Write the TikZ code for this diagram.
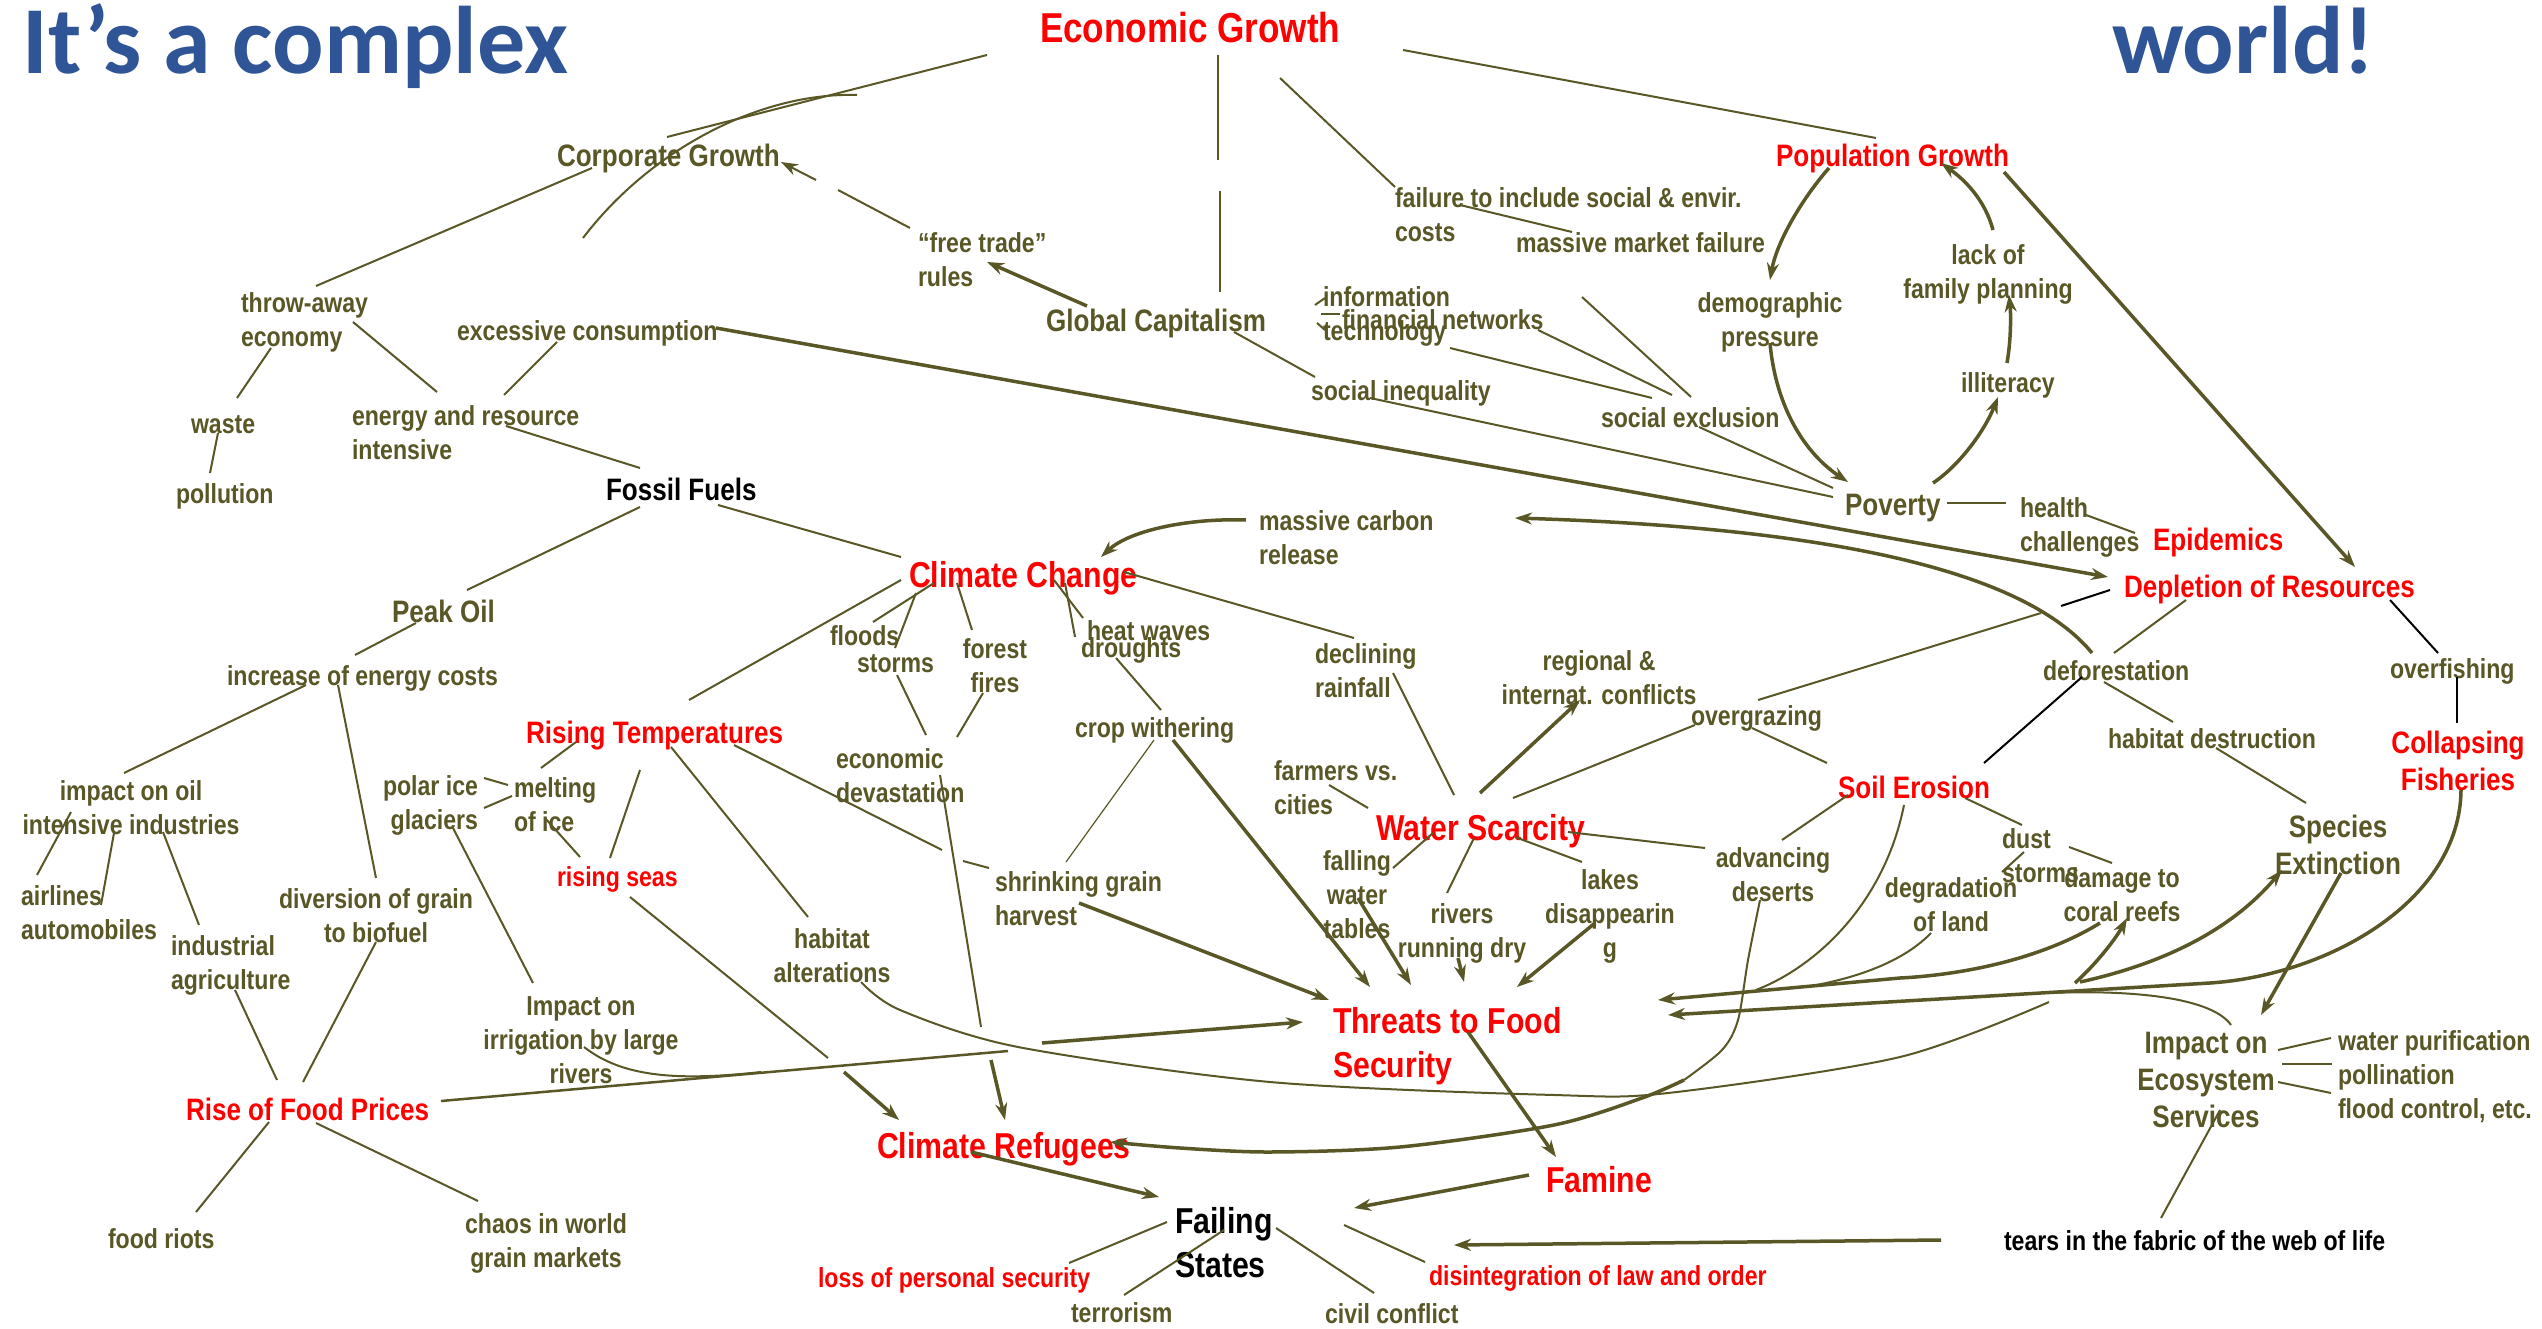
\documentclass[tikz,border=0pt]{standalone}
\usepackage{fontspec}
\usetikzlibrary{arrows.meta}
\newfontfamily\lab[FakeStretch=0.84]{Liberation Sans}
\newfontfamily\ttl{Carlito}
\definecolor{ol}{RGB}{89,87,38}
\definecolor{tb}{RGB}{47,85,151}
\newcommand\TL[1]{\begin{tabular}[t]{@{}l@{}}#1\end{tabular}}
\newcommand\TC[1]{\begin{tabular}[t]{@{}c@{}}#1\end{tabular}}
\newcommand\TR[1]{\begin{tabular}[t]{@{}r@{}}#1\end{tabular}}
\begin{document}
\begin{tikzpicture}[x=1pt,y=-1pt,
 every node/.style={inner sep=0pt,outer sep=0pt},
 sm/.style={font=\lab\bfseries\fontsize{27.5}{34}\selectfont,text=ol,anchor=base west},
 md/.style={font=\lab\bfseries\fontsize{31}{37}\selectfont,text=ol,anchor=base west},
 lg/.style={font=\lab\bfseries\fontsize{36}{44}\selectfont,text=red,anchor=base west},
 rd/.style={text=red}, bk/.style={text=black},
 ln/.style={draw=ol,line width=2pt},
 th/.style={draw=ol,line width=3.5pt},
 ar/.style={-{Stealth[length=17pt,width=12pt]}},
 bl/.style={draw=black,line width=2pt},
 ttlsty/.style={font=\ttl\bfseries\fontsize{96}{100}\selectfont,text=tb,anchor=base west}
]
\fill[white] (0,0) rectangle (2542,1329);
\useasboundingbox (0,0) rectangle (2542,1329);

% ---------- titles
\node[ttlsty] (t1) at (23,74) {It’s a complex};
\node[ttlsty] (t2) at (2112,74) {world!};
\node[font=\lab\bfseries\fontsize{41.8}{48}\selectfont,text=red,anchor=base west] (eg) at (1040,43) {Economic Growth};

% ---------- medium nodes
\node[md] (cg) at (557,167) {Corporate Growth};
\node[md] (gc) at (1046,332) {Global Capitalism};
\node[md,rd] (pg) at (1776,167) {Population Growth};
\node[md] (pov) at (1845,515) {Poverty};
\node[md,bk] (fos) at (606,500) {Fossil Fuels};
\node[md] (po) at (392,622) {Peak Oil};
\node[md,rd] (rt) at (526,743) {Rising Temperatures};
\node[md,rd] (dep) at (2124,597) {Depletion of Resources};
\node[md,rd] (epi) at (2153,550) {Epidemics};
\node[md,rd] (se) at (1838,798) {Soil Erosion};
\node[md,rd,anchor=base] (cf) at (2458,753) {\TC{Collapsing\\Fisheries}};
\node[md,anchor=base] (spx) at (2338,837) {\TC{Species\\Extinction}};
\node[md,anchor=base] (ies) at (2206,1053) {\TC{Impact on\\Ecosystem\\Services}};
\node[md,rd] (rfp) at (186,1120) {Rise of Food Prices};

% ---------- large nodes
\node[lg] (cc) at (909,587) {Climate Change};
\node[lg] (ws) at (1376,840) {Water Scarcity};
\node[lg] (tfs) at (1333,1033) {\TL{Threats to Food\\Security}};
\node[lg] (cr) at (877,1158) {Climate Refugees};
\node[lg] (fam) at (1546,1192) {Famine};
\node[lg,bk] (fs) at (1175,1233) {\TL{Failing\\States}};

% ---------- small nodes
\node[sm] (tw) at (241,313) {\TL{throw-away\\economy}};
\node[sm] (ec) at (457,341) {excessive consumption};
\node[sm] (eri) at (352,425) {\TL{energy and resource\\intensive}};
\node[sm] (wst) at (191,433) {waste};
\node[sm] (pol) at (176,503) {pollution};
\node[sm] (ftr) at (918,253) {\TL{“free trade”\\rules}};
\node[sm] (fail) at (1395,208) {\TL{failure to include social \& envir.\\costs}};
\node[sm] (mmf) at (1516,253) {massive market failure};
\node[sm] (it) at (1323,307) {\TL{information\\technology}};
\node[sm] (fn) at (1342,330) {financial networks};
\node[sm] (si) at (1311,400) {social inequality};
\node[sm] (sx) at (1601,427) {social exclusion};
\node[sm,anchor=base] (dp) at (1770,313) {\TC{demographic\\pressure}};
\node[sm,anchor=base] (lfp) at (1988,265) {\TC{lack of\\family planning}};
\node[sm] (ill) at (1961,392) {illiteracy};
\node[sm] (hc) at (2020,517) {\TL{health\\challenges}};
\node[sm] (mcr) at (1259,530) {\TL{massive carbon\\release}};
\node[sm] (ioec) at (227,685) {increase of energy costs};
\node[sm,anchor=base] (ioi) at (131,800) {\TC{impact on oil\\intensive industries}};
\node[sm] (air) at (21,905) {\TL{airlines\\automobiles}};
\node[sm] (ia) at (171,955) {\TL{industrial\\agriculture}};
\node[sm,anchor=base] (dg) at (376,908) {\TC{diversion of grain\\to biofuel}};
\node[sm,anchor=base east] (pig) at (478,795) {\TR{polar ice\\glaciers}};
\node[sm] (mi) at (514,797) {\TL{melting\\of ice}};
\node[sm,rd] (rs) at (557,886) {rising seas};
\node[sm,anchor=base] (ha) at (832,948) {\TC{habitat\\alterations}};
\node[sm,anchor=base] (iir) at (581,1015) {\TC{Impact on\\irrigation by large\\rivers}};
\node[sm] (fl) at (830,645) {floods};
\node[sm] (st) at (857,672) {storms};
\node[sm,anchor=base] (ff) at (995,658) {\TC{forest\\fires}};
\node[sm] (ed) at (836,768) {\TL{economic\\devastation}};
\node[sm] (hw) at (1087,640) {heat waves};
\node[sm] (dr) at (1081,657) {droughts};
\node[sm] (cw) at (1075,737) {crop withering};
\node[sm] (sg) at (995,891) {\TL{shrinking grain\\harvest}};
\node[sm] (dec) at (1315,663) {\TL{declining\\rainfall}};
\node[sm,anchor=base] (ric) at (1599,670) {\TC{regional \&\\internat. conflicts}};
\node[sm] (og) at (1691,725) {overgrazing};
\node[sm] (fvc) at (1274,780) {\TL{farmers vs.\\cities}};
\node[sm,anchor=base] (fwt) at (1357,870) {\TC{falling\\water\\tables}};
\node[sm,anchor=base] (rrd) at (1462,923) {\TC{rivers\\running dry}};
\node[sm,anchor=base] (ld) at (1610,889) {\TC{lakes\\disappearin\\g}};
\node[sm,anchor=base] (ad) at (1773,867) {\TC{advancing\\deserts}};
\node[sm] (def) at (2043,680) {deforestation};
\node[sm] (hd) at (2108,748) {habitat destruction};
\node[sm] (ovf) at (2390,678) {overfishing};
\node[sm] (ds) at (2002,848) {\TL{dust\\storms}};
\node[sm,anchor=base] (dol) at (1951,897) {\TC{degradation\\of land}};
\node[sm,anchor=base] (dtc) at (2122,887) {\TC{damage to\\coral reefs}};
\node[sm] (wpf) at (2338,1050) {\TL{water purification\\pollination\\flood control, etc.}};
\node[sm,bk] (tears) at (2004,1250) {tears in the fabric of the web of life};
\node[sm,rd] (dlo) at (1429,1285) {disintegration of law and order};
\node[sm] (civ) at (1325,1323) {civil conflict};
\node[sm,rd] (lps) at (818,1287) {loss of personal security};
\node[sm] (ter) at (1071,1322) {terrorism};
\node[sm] (fr) at (108,1248) {food riots};
\node[sm,anchor=base] (chaos) at (546,1233) {\TC{chaos in world\\grain markets}};

% ---------- connectors
\draw[ln] (987,55)--(667,137);
\draw[ln] (583,238) .. controls (650,150) and (760,92) .. (857,95);
\draw[ln] (592,168)--(316,286);
\draw[ln] (271,348)--(237,398);
\draw[ln] (353,322)--(437,392);
\draw[ln] (557,342)--(504,395);
\draw[ln] (506,426)--(640,468);
\draw[ln] (218,433)--(210,473);
\draw[ln] (910,228)--(838,190);
\draw[ln,ar] (816,180)--(781,162);
\draw[th,ar] (1087,306)--(987,262);
\draw[ln] (1218,55)--(1218,160);
\draw[ln] (1220,191)--(1220,292);
\draw[ln] (1234,332)--(1315,377);
\draw[th,ar] (716,328)--(2108,577);
\draw[ln] (1403,50)--(1876,138);
\draw[ln] (1280,78)--(1395,187);
\draw[ln] (1460,205)--(1572,232);
\draw[th,ar] (1829,168) .. controls (1805,195) and (1777,240) .. (1770,280);
\draw[th,ar] (1770,343) .. controls (1775,400) and (1800,450) .. (1848,482);
\draw[ln] (1315,305)--(1325,298);
\draw[ln] (1321,314)--(1340,314);
\draw[ln] (1317,323)--(1325,330);
\draw[ln] (1538,330)--(1672,395);
\draw[ln] (1450,348)--(1652,398);
\draw[ln] (1582,297)--(1691,397);
\draw[ln] (1370,398)--(1833,497);
\draw[ln] (1699,427)--(1833,488);
\draw[th,ar] (1993,230) .. controls (1985,200) and (1965,180) .. (1941,163);
\draw[th,ar] (2007,363) .. controls (2011,340) and (2011,315) .. (2009,295);
\draw[th,ar] (1933,483) .. controls (1960,465) and (1985,430) .. (1998,397);
\draw[th,ar] (2004,172)--(2355,567);
\draw[ln] (640,507)--(467,590);
\draw[ln] (416,623)--(355,655);
\draw[ln] (306,685)--(124,773);
\draw[ln] (338,685)--(376,878);
\draw[ln] (71,812)--(37,875);
\draw[ln] (114,833)--(101,905);
\draw[ln] (163,832)--(199,925);
\draw[ln] (484,778)--(508,785);
\draw[ln] (484,808)--(512,796);
\draw[ln] (576,742)--(541,768);
\draw[ln] (545,818)--(580,857);
\draw[ln] (640,770)--(610,858);
\draw[ln] (453,828)--(533,983);
\draw[ln] (718,505)--(901,557);
\draw[ln] (901,580)--(689,700);
\draw[th,ar] (1246,520) .. controls (1190,518) and (1130,530) .. (1101,557);
\draw[ln] (934,583)--(873,622);
\draw[ln] (916,593)--(895,648);
\draw[ln] (957,583)--(972,630);
\draw[ln] (897,675)--(926,735);
\draw[ln] (983,693)--(957,737);
\draw[ln] (1054,580)--(1083,618);
\draw[ln] (1065,583)--(1075,637);
\draw[ln] (1116,658)--(1161,710);
\draw[draw=ol,line width=1.2pt] (1154,740)--(1066,862);
\draw[th,ar] (1173,740)--(1370,987);
\draw[ln] (1124,572)--(1354,638);
\draw[ln] (734,745)--(942,850);
\draw[ln] (963,861)--(989,868);
\draw[ln] (671,747)--(808,917);
\draw[ln] (940,775)--(981,1027);
\draw[th,ar] (991,1060)--(1005,1120);
\draw[th,ar] (1079,903)--(1329,1000);
\draw[ln] (1393,673)--(1454,795);
\draw[th,ar] (1480,793)--(1580,700);
\draw[ln] (1513,798)--(1695,725);
\draw[ln] (1758,700)--(2041,613);
\draw[bl] (2110,590)--(2061,606);
\draw[ln] (1752,728)--(1827,763);
\draw[ln] (1329,785)--(1368,808);
\draw[ln] (1568,832)--(1705,848);
\draw[ln] (1515,837)--(1582,862);
\draw[ln] (1433,833)--(1393,868);
\draw[ln] (1474,838)--(1447,893);
\draw[ln] (1848,795)--(1782,840);
\draw[ln] (1904,805) .. controls (1885,900) and (1820,965) .. (1756,990);
\draw[ln] (1947,503)--(2006,503);
\draw[ln] (2086,515)--(2135,533);
\draw[th,ar] (2092,653) .. controls (2040,590) and (1900,530) .. (1515,518);
\draw[ln] (2186,600)--(2114,653);
\draw[bl] (2082,677)--(1984,763);
\draw[ln] (2104,682)--(2173,722);
\draw[ln] (2216,748)--(2306,803);
\draw[bl] (2390,600)--(2438,653);
\draw[bl] (2457,677)--(2457,723);
\draw[ln] (1965,798)--(2022,825);
\draw[ln] (2024,852)--(2002,872);
\draw[ln] (2069,847)--(2112,863);
\draw[ln] (1931,933) .. controls (1905,960) and (1860,978) .. (1805,987);
\draw[th,ar] (2100,923) .. controls (2040,960) and (1960,975) .. (1900,978) -- (1658,1000);
\draw[th,ar] (2075,983) .. controls (2095,965) and (2115,940) .. (2127,918);
\draw[th,ar] (2080,982) .. controls (2180,960) and (2240,920) .. (2282,870);
\draw[th,ar] (2461,790) .. controls (2460,900) and (2330,975) .. (2210,983) -- (1668,1015);
\draw[ln] (2231,1025) .. controls (2210,995) and (2120,990) .. (2049,993);
\draw[ln] plot[smooth] coordinates {(861,982) (900,1010) (1018,1047) (1270,1082) (1554,1095) (1668,1093) (1900,1057) (2049,1002)};
\draw[ln] plot[smooth] coordinates {(1760,900) (1748,960) (1738,1020) (1722,1050) (1684,1080)};
\draw[th,ar] plot[smooth] coordinates {(1684,1080) (1642,1098) (1554,1125) (1400,1147) (1270,1152) (1180,1148) (1110,1142)};
\draw[th,ar] (2341,873)--(2261,1015);
\draw[ln] (2278,1050)--(2331,1038);
\draw[ln] (2282,1064)--(2332,1064);
\draw[ln] (2278,1082)--(2331,1093);
\draw[ln] (2220,1110)--(2161,1218);
\draw[th,ar] (1941,1240)--(1454,1245);
\draw[ln] (235,990)--(277,1080);
\draw[ln] (376,942)--(303,1082);
\draw[ln] (269,1122)--(196,1212);
\draw[ln] (316,1123)--(478,1201);
\draw[ln,line width=2.5pt] (441,1101)--(1008,1051);
\draw[th,ar] (1042,1043)--(1303,1022);
\draw[ln] (584,1047) .. controls (620,1075) and (670,1082) .. (761,1072);
\draw[ln] (630,897)--(828,1058);
\draw[th,ar] (844,1072)--(899,1120);
\draw[th,ar] (971,1152)--(1159,1197);
\draw[th,ar] (1468,1032)--(1556,1157);
\draw[th,ar] (1529,1175)--(1354,1208);
\draw[ln] (1344,1225)--(1425,1262);
\draw[ln] (1276,1228)--(1374,1293);
\draw[ln] (1167,1222)--(1069,1263);
\draw[ln] (1224,1230)--(1124,1295);
\draw[th,ar] (1358,898)--(1411,985);
\draw[th,ar] (1458,958)--(1464,982);
\draw[th,ar] (1595,923)--(1517,987);
\end{tikzpicture}
\end{document}
